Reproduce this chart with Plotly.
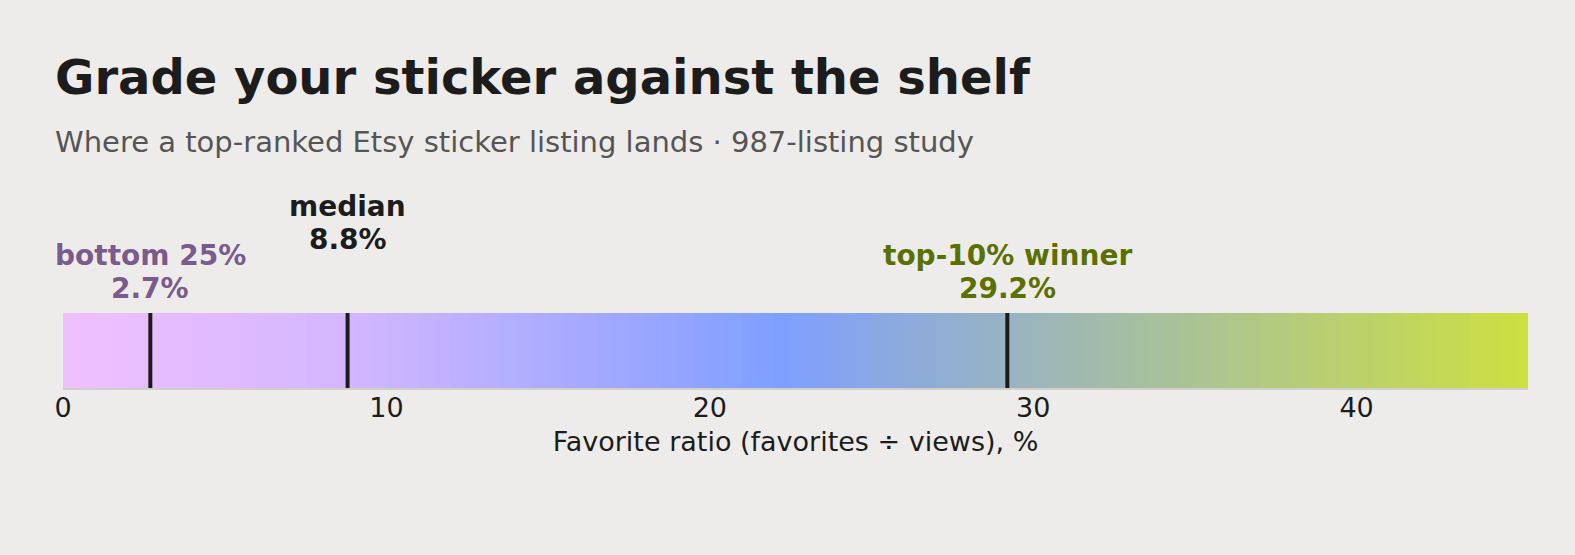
import numpy as np
import plotly.graph_objects as go

# Data
x_max = 45.3
marker_values = [2.7, 8.8, 29.2]
marker_names = ["bottom 25%", "median", "top-10% winner"]
marker_pcts = ["2.7%", "8.8%", "29.2%"]
marker_colors = ["#7b5a8c", "#1c1c1c", "#5a7000"]
marker_raise = [0, 49, 0]
tick_vals = [0, 10, 20, 30, 40]

band_edges = np.arange(0, x_max + 0.5, 0.5)
band_edges[-1] = x_max
band_centers = (band_edges[:-1] + band_edges[1:]) / 2

font = "DejaVu Sans"
bg = "#edecea"

fig = go.Figure()
fig.add_trace(go.Heatmap(
    x=band_edges, y=[0, 1], z=[band_centers],
    colorscale=[[0, "#f0c0ff"], [0.2, "#d2b6ff"], [0.49, "#7f9fff"], [0.65, "#99b4c0"], [1, "#cde040"]],
    zmin=0, zmax=x_max, showscale=False, hoverinfo="skip"))

for v, name, pct, c, r in zip(marker_values, marker_names, marker_pcts, marker_colors, marker_raise):
    fig.add_shape(type="line", x0=v, x1=v, y0=-0.01, y1=1.02, xref="x", yref="y",
                  line=dict(color="#1c1c1c", width=4))
    for txt, off in ((name, 58), (pct, 25)):
        fig.add_annotation(x=v, y=1, xref="x", yref="paper", text=txt, showarrow=False,
                           yanchor="middle", yshift=off + r, align="center",
                           font=dict(family=font, size=28, color=c, weight="bold"))

fig.add_annotation(x=0, y=1, xref="paper", yref="paper", xanchor="left", yanchor="bottom",
                   xshift=-10, yshift=206, showarrow=False,
                   text="<b>Grade your sticker against the shelf</b>",
                   font=dict(family=font, size=48, color="#1c1c1c"))
fig.add_annotation(x=0, y=1, xref="paper", yref="paper", xanchor="left", yanchor="bottom",
                   xshift=-10, yshift=152, showarrow=False,
                   text="Where a top-ranked Etsy sticker listing lands · 987-listing study",
                   font=dict(family=font, size=29, color="#555555"))

fig.update_layout(
    width=1575, height=555,
    margin=dict(l=63, r=47, t=313, b=167),
    paper_bgcolor=bg, plot_bgcolor=bg,
    showlegend=False,
    xaxis=dict(range=[0, x_max], tickvals=tick_vals, showgrid=False, zeroline=False,
               showline=True, linecolor="#d0cfcc", linewidth=2, ticks="",
               ticklabelstandoff=-5,
               tickfont=dict(family=font, size=27, color="#1c1c1c"),
               title=dict(text="Favorite ratio (favorites ÷ views), %", standoff=10,
                          font=dict(family=font, size=27, color="#1c1c1c"))),
    yaxis=dict(range=[0, 1], visible=False, fixedrange=True),
)

fig.write_html("out.html", config={"displayModeBar": False},
               post_script="document.body.style.margin='0';document.body.style.background='%s';" % bg)
